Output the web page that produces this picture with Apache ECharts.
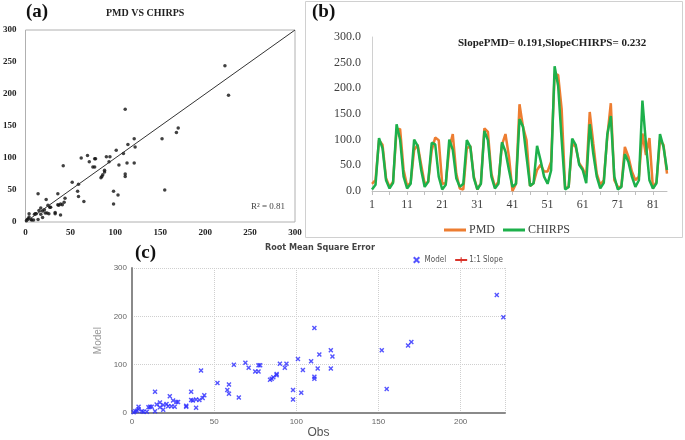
<!DOCTYPE html>
<html>
<head>
  <meta charset="UTF-8">
  <title>PMD vs CHIRPS</title>
  <script src="https://cdn.jsdelivr.net/npm/echarts@6/dist/echarts.min.js"></script>
  <style>
    html, body { margin: 0; padding: 0; background: #fff; }
    #chart { width: 685px; height: 440px; }
  </style>
</head>
<body>
<div id="chart"></div>
<script>
// (b) monthly series, index 1..85
var months = [];
for (var i = 1; i <= 85; i++) { months.push(String(i)); }

var pmd = [14,21,99,90,25,8,18,119,121,41,
           10,16,80,90,51,14,18,79,104,99,
           14,15,83,111,34,5,3,83,88,28,
           3,15,122,115,34,8,18,90,111,67,
           0,14,169,125,99,10,15,41,51,38,
           38,57,228,226,160,5,8,93,86,54,
           44,28,154,93,34,12,21,106,171,21,
           8,8,86,67,38,21,28,112,70,103,
           5,18,99,90,34];

var chirps = [3,12,103,83,21,5,16,130,100,28,
              5,14,100,88,41,8,18,94,91,28,
              3,12,100,80,25,8,14,99,86,25,
              3,14,117,99,28,5,14,95,77,41,
              8,14,140,125,67,10,15,88,60,28,
              14,40,243,205,100,3,8,102,90,51,
              41,15,130,73,28,5,16,110,146,28,
              3,8,72,57,28,8,21,176,93,21,
              5,15,111,86,41];

// (a) and (c) scatter pairs [obs, model]
var pairs = [[222,244],[226,198],[111,176],[170,147],[168,140],[152,130],[121,130],[114,121],
             [122,117],[101,112],[109,107],[69,104],[62,100],[77,99],[78,99],[90,102],[94,102],
             [71,94],[93,94],[42,88],[75,86],[77,86],[104,89],[113,92],[121,92],[88,81],[88,78],
             [86,74],[85,71],[84,69],[111,75],[111,71],[52,62],[59,59],[58,48],[59,40],[98,48],
             [103,42],[98,28],[155,50],[65,32],[36,44],[44,37],[23,35],[43,31],[36,27],[37,26],
             [39,28],[41,27],[39,11],[33,15],[27,23],[25,26],[28,23],[21,19],[17,22],[15,18],
             [19,17],[22,14],[24,14],[26,13],[12,13],[10,12],[14,44],[4,13],[4,8],[17,12],[19,7],
             [14,4],[9,3],[7,3],[3,5],[1,2],[11,13],[6,4],[2,4],[33,13]];

var oneToOne = [[0,0],[300,300]];

var serif = '"Liberation Serif", "DejaVu Serif", serif';
var cond = '"DejaVu Sans Condensed", "DejaVu Sans", sans-serif';
var xMark = 'path://M0,2L2,0L5,3L8,0L10,2L7,5L10,8L8,10L5,7L2,10L0,8L3,5Z';

var chart = echarts.init(document.getElementById('chart'));

var option = {
  backgroundColor: '#fff',
  animation: false,
  graphic: [
    { type: 'rect', shape: { x: 305.5, y: 1.5, width: 377, height: 236 },
      style: { fill: 'none', stroke: '#d0d0d0', lineWidth: 1 } },
    { type: 'text', left: 26, top: 3, style: { text: '(a)', font: 'bold 19px ' + serif, fill: '#111' } },
    { type: 'text', left: 106, top: 8, style: { text: 'PMD VS CHIRPS', font: 'bold 10px ' + serif, fill: '#222' } },
    { type: 'text', left: 251, top: 202, style: { text: 'R² = 0.81', font: '9px ' + serif, fill: '#444' } },
    { type: 'text', left: 312, top: 3, style: { text: '(b)', font: 'bold 19px ' + serif, fill: '#111' } },
    { type: 'text', left: 458, top: 38, style: { text: 'SlopePMD= 0.191,SlopeCHIRPS= 0.232', font: 'bold 11px ' + serif, fill: '#222' } },
    { type: 'text', left: 135, top: 244, style: { text: '(c)', font: 'bold 19px ' + serif, fill: '#111' } },
    { type: 'text', left: 265, top: 243, style: { text: 'Root Mean Square Error', font: 'bold 9px ' + cond, fill: '#444' } }
  ],
  legend: [
    {
      left: 439, top: 219, itemWidth: 22, itemHeight: 3, itemGap: 8, icon: 'rect',
      data: ['PMD', 'CHIRPS'],
      textStyle: { fontFamily: serif, fontSize: 12, color: '#404040', padding: [0, 0, 0, -2] }
    },
    {
      right: 177, top: 251, itemWidth: 12, itemHeight: 7, itemGap: 8,
      data: ['Model', '1:1 Slope'],
      textStyle: { fontFamily: cond, fontSize: 8, color: '#555', padding: [0, 0, 0, -3] }
    }
  ],
  grid: [
    { left: 22, top: 30, width: 273, height: 192, show: true, borderColor: '#b0b0b0', borderWidth: 1 },
    { left: 372, top: 37, width: 295, height: 154 },
    { left: 132, top: 268, width: 373, height: 149 }
  ],
  xAxis: [
    {
      gridIndex: 0, type: 'value', min: 0, max: 300, interval: 50,
      axisLine: { show: false }, axisTick: { show: false }, splitLine: { show: false },
      axisLabel: { fontFamily: serif, fontWeight: 'bold', fontSize: 9, color: '#222', margin: 6 }
    },
    {
      gridIndex: 1, type: 'category', data: months, boundaryGap: false,
      axisLine: { lineStyle: { color: '#bfbfbf' } },
      axisTick: { interval: 4, length: 4, lineStyle: { color: '#bfbfbf' } },
      axisLabel: { interval: 9, fontFamily: serif, fontSize: 12, color: '#404040', margin: 8 }
    },
    {
      gridIndex: 2, type: 'value', min: 0, max: 227, interval: 50,
      axisLine: { lineStyle: { color: '#8a8a8a', width: 2 } },
      axisTick: { show: false },
      splitLine: { show: true, lineStyle: { type: 'dotted', color: '#cfcfcf' } },
      axisLabel: { showMaxLabel: false, fontSize: 8, color: '#666', margin: 5 },
      name: 'Obs', nameLocation: 'middle', nameGap: 12,
      nameTextStyle: { fontSize: 12, color: '#555' }
    }
  ],
  yAxis: [
    {
      gridIndex: 0, type: 'value', min: 0, max: 300, interval: 50,
      axisLine: { show: false }, axisTick: { show: false }, splitLine: { show: false },
      axisLabel: { fontFamily: serif, fontWeight: 'bold', fontSize: 9, color: '#222', margin: 9 }
    },
    {
      gridIndex: 1, type: 'value', min: 0, max: 300, interval: 50,
      axisLine: { show: true, lineStyle: { color: '#d0d0d0' } },
      axisTick: { show: false }, splitLine: { show: false },
      axisLabel: {
        fontFamily: serif, fontSize: 12, color: '#404040', margin: 11,
        formatter: function (v) { return v.toFixed(1); }
      }
    },
    {
      gridIndex: 2, type: 'value', min: 0, max: 300, interval: 100,
      axisLine: { show: true, lineStyle: { color: '#8a8a8a', width: 2 } },
      axisTick: { show: false },
      splitLine: { show: true, lineStyle: { type: 'dotted', color: '#cfcfcf' } },
      axisLabel: { fontSize: 8, color: '#666', margin: 5 },
      name: 'Model', nameLocation: 'middle', nameGap: 22,
      nameTextStyle: { fontSize: 10, color: '#999' }
    }
  ],
  series: [
    {
      name: 'scatterA', type: 'scatter', xAxisIndex: 0, yAxisIndex: 0,
      data: pairs, symbolSize: 3.5, itemStyle: { color: '#111' }
    },
    {
      name: 'fitA', type: 'line', xAxisIndex: 0, yAxisIndex: 0,
      data: oneToOne, symbol: 'none', silent: true,
      lineStyle: { color: '#333', width: 1 }
    },
    {
      name: 'PMD', type: 'line', xAxisIndex: 1, yAxisIndex: 1,
      data: pmd, symbol: 'none', itemStyle: { color: '#ED7D31' },
      lineStyle: { color: '#ED7D31', width: 2.5 }
    },
    {
      name: 'CHIRPS', type: 'line', xAxisIndex: 1, yAxisIndex: 1,
      data: chirps, symbol: 'none', itemStyle: { color: '#1DB04B' },
      lineStyle: { color: '#1DB04B', width: 2.5 }
    },
    {
      name: 'Model', type: 'scatter', xAxisIndex: 2, yAxisIndex: 2,
      data: pairs, symbol: xMark, symbolSize: 5,
      itemStyle: { color: '#2a2aff' }
    },
    {
      name: '1:1 Slope', type: 'line', xAxisIndex: 2, yAxisIndex: 2,
      data: [], symbol: 'path://M4,0L6,0L6,4L10,4L10,6L6,6L6,10L4,10L4,6L0,6L0,4L4,4Z', symbolSize: 5,
      itemStyle: { color: '#d9342b' }, lineStyle: { color: '#d9342b', width: 1 }
    }
  ]
};

chart.setOption(option);
</script>
</body>
</html>
